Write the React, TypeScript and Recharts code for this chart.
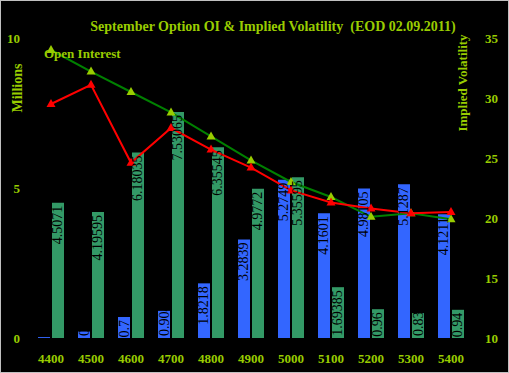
import React from 'react';
import { ComposedChart, Bar, Line, XAxis, YAxis, LabelList } from 'recharts';

const strikes = ['4400', '4500', '4600', '4700', '4800', '4900', '5000', '5100', '5200', '5300', '5400'];
const callOI = [0.0312, 0.2145, 0.7, 0.90435, 1.8218, 3.2839, 5.2749, 4.1601, 4.98105, 5.1287, 4.1211];
const putOI = [4.5071, 4.19595, 6.18035, 7.53065, 6.35545, 4.9772, 5.35595, 1.69385, 0.96, 0.83, 0.94];
const callIV = [29.5, 31.1, 24.6, 27.5, 25.7, 24.2, 22.3, 21.3, 20.8, 20.4, 20.5];
const putIV = [34.0, 32.2, 30.5, 28.8, 26.8, 24.8, 23.0, 21.75, 20.1, 20.4, 19.9];
const oiTicks = [0, 5, 10];
const ivTicks = [10, 15, 20, 25, 30, 35];

const data = strikes.map((s, i) => ({
  strike: s,
  callOI: callOI[i],
  putOI: putOI[i],
  callIV: callIV[i],
  putIV: putIV[i],
}));

const FONT = '"Liberation Serif", "Times New Roman", serif';
const LIME = '#99cc00';

const textLen = (s: string) => {
  let l = 0;
  for (const c of s) l += c === '.' ? 3.5 : 7;
  return l;
};

const renderLabel = (p: any) => {
  const { x, y, width, height, value } = p;
  if (value == null) return null;
  const s = String(value);
  const cx = Number(x) + Number(width) / 2;
  const top = Number(y);
  const h = Number(height);
  const bottom = top + h;
  const fits = textLen(s) + 3 <= h;
  const ay = fits ? top + 3 : bottom - 2;
  return (
    <text
      x={cx}
      y={ay}
      transform={`rotate(-90, ${cx}, ${ay})`}
      textAnchor={fits ? 'end' : 'start'}
      dominantBaseline="central"
      fill="#000"
      fontSize={14}
      fontFamily={FONT}
    >
      {s}
    </text>
  );
};

const makeTri = (color: string) => (p: any) => {
  const { cx, cy, index } = p;
  if (cx == null || cy == null) return <g key={index} />;
  return (
    <polygon
      key={index}
      points={`${cx},${cy - 5} ${cx + 4.5},${cy + 3} ${cx - 4.5},${cy + 3}`}
      fill={color}
    />
  );
};

const tickStyle = { fill: LIME, fontSize: 13, fontWeight: 'bold', fontFamily: FONT } as any;

const overlayText: React.CSSProperties = {
  position: 'absolute',
  color: LIME,
  fontFamily: FONT,
  fontWeight: 'bold',
  fontSize: 13,
  lineHeight: 1,
  whiteSpace: 'nowrap',
};

export default function App() {
  return (
    <div style={{ position: 'absolute', left: 0, top: 0, width: 509, height: 373, background: '#000' }}>
      <ComposedChart
        width={509}
        height={373}
        data={data}
        margin={{ top: 38, right: 0, bottom: 0, left: 0 }}
        barGap={2}
      >
        <XAxis
          dataKey="strike"
          height={35}
          tickLine={false}
          axisLine={false}
          tickSize={0}
          tickMargin={16}
          interval={0}
          tick={tickStyle}
        />
        <YAxis
          yAxisId="oi"
          domain={[0, 10]}
          ticks={oiTicks}
          width={31}
          tickLine={false}
          axisLine={false}
          tickSize={0}
          tickMargin={11}
          tick={tickStyle}
        />
        <YAxis
          yAxisId="iv"
          orientation="right"
          domain={[10, 35]}
          ticks={ivTicks}
          width={38}
          tickLine={false}
          axisLine={false}
          tickSize={0}
          tickMargin={14}
          tick={tickStyle}
        />
        <Bar yAxisId="oi" dataKey="callOI" fill="#3366ff" barSize={12} isAnimationActive={false}>
          <LabelList dataKey="callOI" content={renderLabel} />
        </Bar>
        <Bar yAxisId="oi" dataKey="putOI" fill="#339966" barSize={12} isAnimationActive={false}>
          <LabelList dataKey="putOI" content={renderLabel} />
        </Bar>
        <Line
          yAxisId="iv"
          dataKey="putIV"
          stroke="#008000"
          strokeWidth={2}
          type="linear"
          dot={makeTri(LIME)}
          activeDot={false}
          isAnimationActive={false}
        />
        <Line
          yAxisId="iv"
          dataKey="callIV"
          stroke="#ff0000"
          strokeWidth={2}
          type="linear"
          dot={makeTri('#ff0000')}
          activeDot={false}
          isAnimationActive={false}
        />
      </ComposedChart>
      <div style={{ ...overlayText, fontSize: 14, left: 273, top: 27, transform: 'translate(-50%, -50%)' }}>
        September Option OI &amp; Implied Volatility&nbsp; (EOD 02.09.2011)
      </div>
      <div style={{ ...overlayText, left: 44, top: 47 }}>Open Interest</div>
      <div style={{ ...overlayText, fontSize: 14, left: 18, top: 88, transform: 'translate(-50%, -50%) rotate(-90deg)' }}>
        Millions
      </div>
      <div style={{ ...overlayText, left: 462, top: 83, transform: 'translate(-50%, -50%) rotate(-90deg)' }}>
        Implied Volatility
      </div>
      <div
        style={{
          position: 'absolute',
          left: 0,
          top: 0,
          width: 509,
          height: 373,
          boxSizing: 'border-box',
          border: '1px solid #c0c0c0',
          pointerEvents: 'none',
        }}
      />
    </div>
  );
}
